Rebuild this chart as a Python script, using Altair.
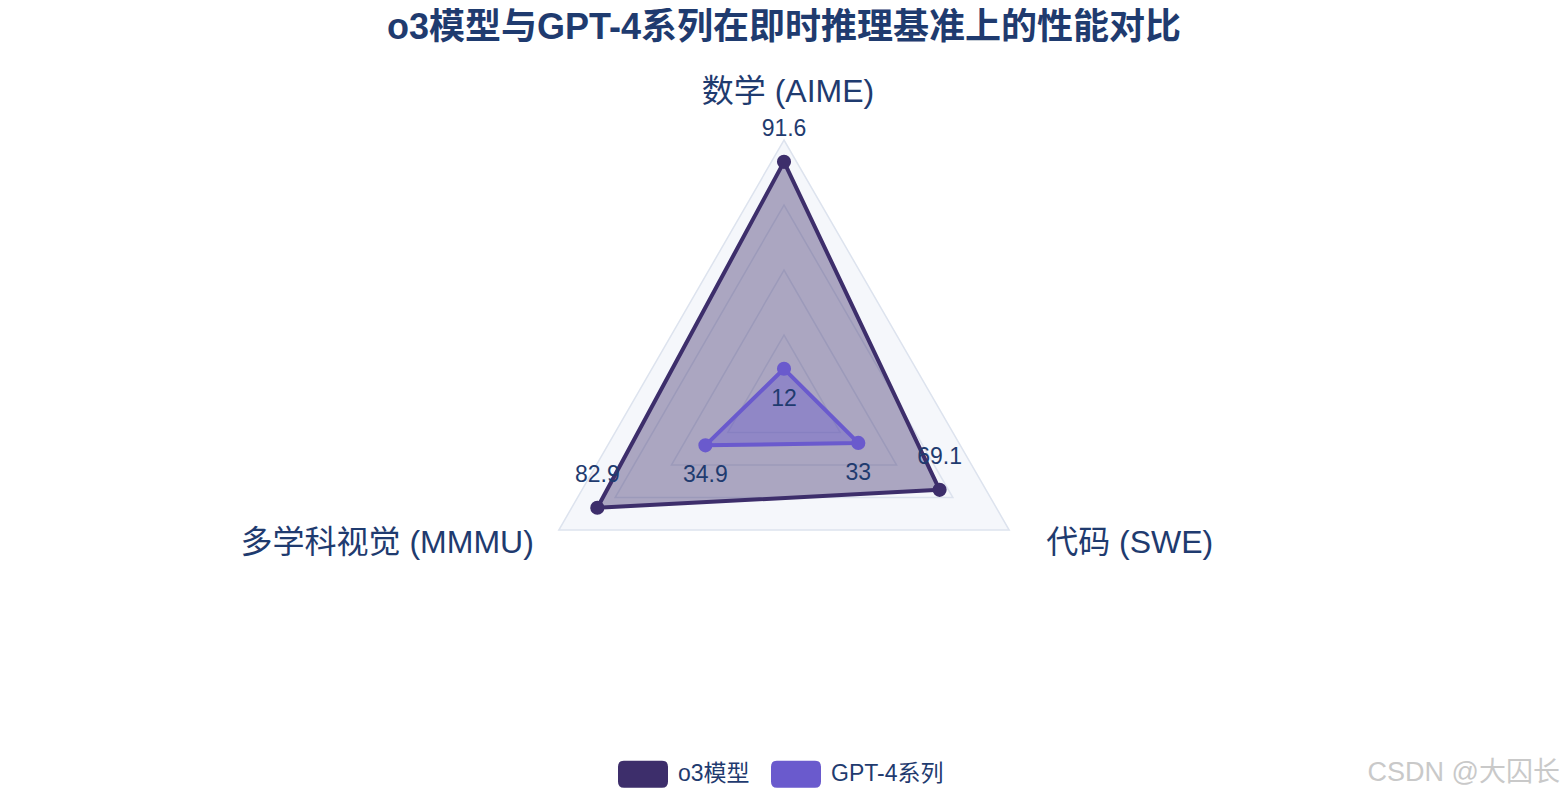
import altair as alt
import pandas as pd

# ---------------- data ----------------
categories = ["数学 (AIME)", "多学科视觉 (MMMU)", "代码 (SWE)"]
series_names = ["o3模型", "GPT-4系列"]
o3_values = [91.6, 82.9, 69.1]
gpt4_values = [12, 34.9, 33]
grid_levels = [25, 50, 75, 100]
radial_max = 100
title_text = "o3模型与GPT-4系列在即时推理基准上的性能对比"
watermark_text = "CSDN @大囚长"

# ---------------- style ----------------
colors = ["#3D2E6B", "#6A5ACD"]
NAVY = "#1f3b6f"
FONT = "Liberation Sans, Arial, Noto Sans CJK SC"
GRID = "#dde3ee"
BG = "#f5f7fb"

W, H = 1552, 724
PAD_TOP = 60
PX = 2.6          # pixels per radial unit
CX, CY = 776, 332  # centre of the radar in plot coordinates

x_dom = [-CX / PX, (W - CX) / PX]
y_dom = [-(H - CY) / PX, CY / PX]

n = len(categories)
scores = pd.DataFrame({
    "series": [s for s in series_names for _ in categories],
    "category": categories * len(series_names),
    "idx": list(range(n)) * len(series_names),
    "value": o3_values + gpt4_values,
})
grid = pd.DataFrame({
    "level": [lv for lv in grid_levels for _ in categories],
    "idx": list(range(n)) * len(grid_levels),
})
axes_df = pd.DataFrame({"category": categories, "idx": list(range(n)),
                        "value": [radial_max] * n})

angle_expr = f"PI/2 + 2*PI*datum.idx/{n}"


def polar(chart, field):
    return chart.transform_calculate(
        ang=angle_expr
    ).transform_calculate(
        x=f"datum.{field}*cos(datum.ang)",
        y=f"datum.{field}*sin(datum.ang)",
    )


X = alt.X("x:Q", scale=alt.Scale(domain=x_dom, nice=False, zero=False), axis=None)
Y = alt.Y("y:Q", scale=alt.Scale(domain=y_dom, nice=False, zero=False), axis=None)
ORD = alt.Order("idx:Q")

# background of the polar area
bg = polar(alt.Chart(grid), "level").transform_filter(
    alt.datum.level == radial_max
).mark_line(interpolate="linear-closed", fill=BG, strokeWidth=0).encode(x=X, y=Y, order=ORD)

# grid triangles
grid_lines = polar(alt.Chart(grid), "level").mark_line(
    interpolate="linear-closed", stroke=GRID, strokeWidth=1.5
).encode(x=X, y=Y, order=ORD, detail="level:N")


def polygon(i):
    return polar(alt.Chart(scores), "value").transform_filter(
        alt.datum.series == series_names[i]
    ).mark_line(
        interpolate="linear-closed", stroke=colors[i], fill=colors[i],
        fillOpacity=0.4, strokeWidth=4, strokeJoin="round"
    ).encode(x=X, y=Y, order=ORD)


legend_symbol = ("M -0.76,-0.54 L 0.76,-0.54 Q 1,-0.54 1,-0.3 L 1,0.3 Q 1,0.54 0.76,0.54 "
                 "L -0.76,0.54 Q -1,0.54 -1,0.3 L -1,-0.3 Q -1,-0.54 -0.76,-0.54 Z")

points = polar(alt.Chart(scores), "value").mark_point(
    filled=True, size=200, opacity=1
).encode(
    x=X, y=Y,
    color=alt.Color(
        "series:N",
        scale=alt.Scale(domain=series_names, range=colors),
        legend=alt.Legend(
            orient="none", legendX=610, legendY=681, direction="horizontal",
            title=None, symbolType=legend_symbol, symbolSize=2500,
            symbolStrokeWidth=0, symbolOpacity=1,
            labelFontSize=23, labelFont=FONT, labelColor=NAVY,
            labelOffset=10, columnPadding=21, padding=0, labelLimit=400,
        ),
    ),
)


def value_labels(i, dy):
    return polar(alt.Chart(scores), "value").transform_filter(
        alt.datum.series == series_names[i]
    ).transform_calculate(
        label="format(datum.value, '~g')"
    ).mark_text(
        font=FONT, fontSize=23, color=NAVY, align="center", baseline="alphabetic", dy=dy
    ).encode(x=X, y=Y, text="label:N")


def axis_label(i, align, dx, dy):
    return polar(alt.Chart(axes_df), "value").transform_filter(
        alt.datum.idx == i
    ).mark_text(
        font=FONT, fontSize=32, color=NAVY, align=align, baseline="middle", dx=dx, dy=dy
    ).encode(x=X, y=Y, text="category:N")


wm = alt.Chart(pd.DataFrame({"t": [watermark_text]})).mark_text(
    font=FONT, fontSize=27, color="#c9c9c9", align="right", baseline="middle"
).encode(x=alt.value(W), y=alt.value(705), text="t:N")

chart = alt.layer(
    bg, grid_lines, polygon(0), polygon(1), points,
    value_labels(0, -26), value_labels(1, 37),
    axis_label(0, "center", 4, -48),
    axis_label(1, "right", -25, 13),
    axis_label(2, "left", 37, 13),
    wm,
).properties(
    width=W, height=H,
    autosize=alt.AutoSizeParams(type="none"),
    padding={"top": PAD_TOP, "left": 0, "right": 0, "bottom": 0},
    title=alt.TitleParams(
        text=title_text, fontSize=36, font=FONT, fontWeight="bold",
        color=NAVY, anchor="middle", offset=21,
    ),
).configure_view(stroke=None)

chart.save("out.html", embed_options={"renderer": "svg", "actions": False})
